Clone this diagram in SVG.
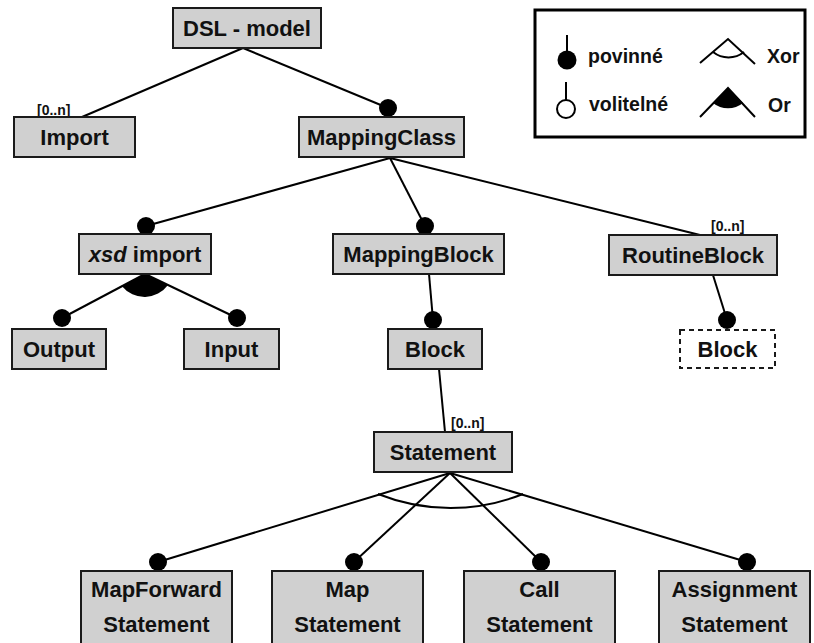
<svg xmlns="http://www.w3.org/2000/svg" width="814" height="643" viewBox="0 0 814 643">
<style>
.box{fill:#d0d0d0;stroke:#1a1a1a;stroke-width:2}
.dash{fill:#fff;stroke:#1a1a1a;stroke-width:2;stroke-dasharray:5 4}
.t{font-family:"Liberation Sans",Arial,sans-serif;font-weight:bold;font-size:22px;fill:#111;text-anchor:middle}
.m{font-family:"Liberation Sans",Arial,sans-serif;font-weight:bold;font-size:14px;fill:#111}
.lg{font-family:"Liberation Sans",Arial,sans-serif;font-weight:bold;font-size:19.5px;fill:#111}
.ln{stroke:#000;stroke-width:2;fill:none}
.dot{fill:#000}
</style>
<rect width="814" height="643" fill="#fff"/>
<g id="connectors">
<line class="ln" x1="243" y1="48" x2="82" y2="117"/>
<line class="ln" x1="243" y1="48" x2="388" y2="108"/>
<line class="ln" x1="390" y1="158" x2="146" y2="226"/>
<line class="ln" x1="390" y1="158" x2="425" y2="226"/>
<line class="ln" x1="390" y1="158" x2="700" y2="235"/>
<line class="ln" x1="145" y1="274" x2="62" y2="318"/>
<line class="ln" x1="145" y1="274" x2="237" y2="318"/>
<path d="M145,274 L122,286.2 A29,29 0 0 0 168,285 Z" fill="#000"/>
<line class="ln" x1="429" y1="274" x2="433" y2="320"/>
<line class="ln" x1="713" y1="275" x2="727" y2="320"/>
<line class="ln" x1="439" y1="369" x2="445" y2="432"/>
<line class="ln" x1="450" y1="473" x2="158" y2="562"/>
<line class="ln" x1="450" y1="473" x2="354" y2="562"/>
<line class="ln" x1="450" y1="473" x2="541" y2="562"/>
<line class="ln" x1="450" y1="473" x2="747" y2="562"/>
<path class="ln" d="M378,494 A195,195 0 0 0 523,494"/>
<circle class="dot" cx="388" cy="108" r="9"/>
<circle class="dot" cx="146" cy="226" r="9"/>
<circle class="dot" cx="425" cy="226" r="9"/>
<circle class="dot" cx="62" cy="318" r="9"/>
<circle class="dot" cx="237" cy="318" r="9"/>
<circle class="dot" cx="433" cy="320" r="9"/>
<circle class="dot" cx="727" cy="320" r="9"/>
<circle class="dot" cx="158" cy="562" r="9"/>
<circle class="dot" cx="354" cy="562" r="9"/>
<circle class="dot" cx="541" cy="562" r="9"/>
<circle class="dot" cx="747" cy="562" r="9"/>
<text class="m" x="37" y="115">[0..n]</text>
<text class="m" x="711" y="231">[0..n]</text>
<text class="m" x="451" y="428">[0..n]</text>
</g>
<g id="dsl-model"><rect class="box" x="173" y="8" width="148" height="40"/><text class="t" x="247" y="36">DSL - model</text></g>
<g id="import"><rect class="box" x="14" y="117" width="121" height="40"/><text class="t" x="74.5" y="145">Import</text></g>
<g id="mappingclass"><rect class="box" x="299" y="117" width="165" height="40"/><text class="t" x="381.5" y="145">MappingClass</text></g>
<g id="xsd-import"><rect class="box" x="79" y="234" width="132" height="40"/><text class="t" x="145" y="262"><tspan font-style="italic">xsd</tspan> import</text></g>
<g id="mappingblock"><rect class="box" x="333" y="234" width="171" height="40"/><text class="t" x="418.5" y="262">MappingBlock</text></g>
<g id="routineblock"><rect class="box" x="609" y="235" width="168" height="40"/><text class="t" x="693" y="263">RoutineBlock</text></g>
<g id="output"><rect class="box" x="12" y="329" width="94" height="40"/><text class="t" x="59" y="357">Output</text></g>
<g id="input"><rect class="box" x="184" y="329" width="95" height="40"/><text class="t" x="231.5" y="357">Input</text></g>
<g id="block"><rect class="box" x="388" y="329" width="94" height="40"/><text class="t" x="435" y="357">Block</text></g>
<g id="block-routine"><rect class="dash" x="680" y="330" width="95" height="38"/><text class="t" x="727.5" y="357">Block</text></g>
<g id="statement"><rect class="box" x="374" y="432" width="138" height="40"/><text class="t" x="443" y="460">Statement</text></g>
<g id="mapforward"><rect class="box" x="81" y="571" width="151" height="100"/><text class="t" x="156.5" y="597">MapForward</text><text class="t" x="156.5" y="632">Statement</text></g>
<g id="map"><rect class="box" x="272" y="571" width="151" height="100"/><text class="t" x="347.5" y="597">Map</text><text class="t" x="347.5" y="632">Statement</text></g>
<g id="call"><rect class="box" x="464" y="571" width="151" height="100"/><text class="t" x="539.5" y="597">Call</text><text class="t" x="539.5" y="632">Statement</text></g>
<g id="assignment"><rect class="box" x="659" y="571" width="151" height="100"/><text class="t" x="734.5" y="597">Assignment</text><text class="t" x="734.5" y="632">Statement</text></g>
<g id="legend">
<rect x="535" y="10" width="270" height="127" fill="#fff" stroke="#000" stroke-width="3"/>
<line class="ln" x1="567" y1="35" x2="567" y2="58"/>
<circle class="dot" cx="567" cy="60" r="9.5"/>
<text class="lg" x="588" y="63">povinné</text>
<line class="ln" x1="566" y1="82" x2="566" y2="100"/>
<circle cx="566" cy="109" r="9" fill="#fff" stroke="#000" stroke-width="2"/>
<text class="lg" x="589" y="111">volitelné</text>
<path class="ln" d="M700,63 L728,39 L755,64"/>
<path class="ln" d="M713,52 A25,25 0 0 0 744,52"/>
<text class="lg" x="767" y="63">Xor</text>
<path class="ln" d="M700,117 L728,88 L755,117"/>
<path d="M728,88 L713,103 A24,24 0 0 0 743,103 Z" fill="#000"/>
<text class="lg" x="768" y="112">Or</text>
</g>
</svg>
